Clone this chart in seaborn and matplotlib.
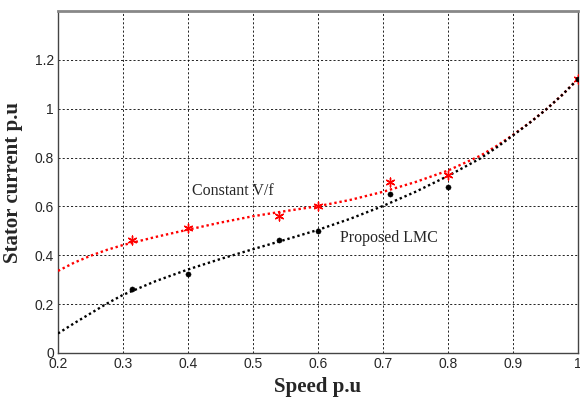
import numpy as np
import pandas as pd
import matplotlib
matplotlib.use("Agg")
import matplotlib.pyplot as plt
import seaborn as sns

sns.set_style("white")
plt.rcParams['font.family'] = ['Liberation Sans', 'DejaVu Sans']

# Measured points
vf_speed = [0.314, 0.40, 0.54, 0.60, 0.71, 0.80, 1.00]
vf_current = [0.462, 0.512, 0.560, 0.600, 0.700, 0.727, 1.122]
lmc_speed = [0.314, 0.40, 0.54, 0.60, 0.71, 0.80, 1.00]
lmc_current = [0.261, 0.322, 0.463, 0.500, 0.652, 0.680, 1.122]

# Fitted curves
curve_speed = [0.20, 0.225, 0.25, 0.275, 0.30, 0.35, 0.40, 0.45, 0.50, 0.55, 0.60, 0.65,
               0.70, 0.75, 0.80, 0.85, 0.875, 0.90, 0.925, 0.95, 0.975, 1.00]
vf_curve = [0.336, 0.370, 0.398, 0.422, 0.442, 0.475, 0.505, 0.534, 0.560, 0.581, 0.601, 0.627,
            0.660, 0.700, 0.747, 0.808, 0.848, 0.893, 0.942, 0.995, 1.055, 1.122]
lmc_curve = [0.080, 0.122, 0.162, 0.202, 0.238, 0.294, 0.342, 0.385, 0.425, 0.464, 0.504, 0.550,
             0.602, 0.660, 0.725, 0.797, 0.842, 0.891, 0.941, 0.995, 1.055, 1.122]

x_ticks = [0.2, 0.3, 0.4, 0.5, 0.6, 0.7, 0.8, 0.9, 1.0]
x_labels = ['0.2', '0.3', '0.4', '0.5', '0.6', '0.7', '0.8', '0.9', '1']
y_ticks = [0, 0.2, 0.4, 0.6, 0.8, 1.0, 1.2]
y_labels = ['0', '0.2', '0.4', '0.6', '0.8', '1', '1.2']

curves = pd.DataFrame({'speed': curve_speed, 'vf': vf_curve, 'lmc': lmc_curve})
pts_vf = pd.DataFrame({'speed': vf_speed, 'current': vf_current})
pts_lmc = pd.DataFrame({'speed': lmc_speed, 'current': lmc_current})

fig = plt.figure(figsize=(5.8, 3.99), dpi=100)
ax = fig.add_axes([0.1, 0.1153, 0.8966, 0.857])

sns.lineplot(data=curves, x='speed', y='vf', ax=ax, color='red',
             linestyle=(0, (1, 1.2)), linewidth=1.7, zorder=3)
sns.lineplot(data=curves, x='speed', y='lmc', ax=ax, color='black',
             linestyle=(0, (1, 1.2)), linewidth=1.7, zorder=3)
sns.scatterplot(data=pts_vf, x='speed', y='current', ax=ax, color='red',
                marker=(6, 2, 0), s=40, linewidth=1.0, zorder=4)
sns.scatterplot(data=pts_lmc, x='speed', y='current', ax=ax, color='black',
                marker='o', s=14, edgecolor='black', zorder=4)

ax.set_xlim(0.2, 1.0)
ax.set_ylim(0, 1.4)
ax.set_xticks(x_ticks)
ax.set_xticklabels(x_labels)
ax.set_yticks(y_ticks)
ax.set_yticklabels(y_labels)
ax.tick_params(labelsize=10, length=0, pad=3)
ax.grid(True, color='black', linestyle=(0, (2.5, 2.5)), linewidth=0.6)

for s in ax.spines.values():
    s.set_color('#444444')
    s.set_linewidth(1.0)
ax.spines['top'].set_color('#888888')
ax.spines['top'].set_linewidth(2)

serif = ['Liberation Serif', 'DejaVu Serif']
ax.set_xlabel('Speed p.u', fontsize=15, fontweight='bold', family=serif, labelpad=4)
ax.set_ylabel('Stator current p.u', fontsize=15, fontweight='bold', family=serif, labelpad=8)

ax.text(0.406, 0.664, 'Constant V/f', fontsize=11.5, family=serif, va='center')
ax.text(0.634, 0.47, 'Proposed LMC', fontsize=11.5, family=serif, va='center')

plt.savefig('out.png', dpi=100)
